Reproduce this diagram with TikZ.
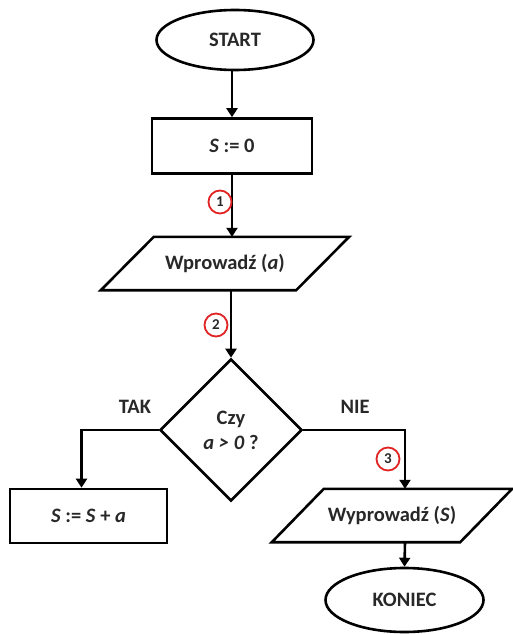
\documentclass[tikz,border=0pt]{standalone}
\usepackage{fontspec}
\setmainfont{Carlito}
\usetikzlibrary{shapes.geometric,arrows.meta}
\definecolor{markred}{RGB}{225,35,35}
\definecolor{txt}{RGB}{40,40,40}
\begin{document}
\begin{tikzpicture}[x=1pt,y=-1pt,
  every node/.style={font=\fontsize{20.5}{25}\selectfont\bfseries, text=txt},
  line/.style={line width=2.6pt},
  arr/.style={line width=2.6pt, -{Triangle[width=11pt,length=9pt]}},
  term/.style={ellipse, draw, line width=2.6pt, minimum width=157pt, minimum height=60pt, inner sep=0pt},
  proc/.style={rectangle, draw, line width=2.6pt, minimum height=55pt, inner sep=0pt},
  io/.style={rectangle, minimum height=53pt, inner sep=0pt},
  dec/.style={diamond, draw, line width=2.6pt, minimum width=142pt, minimum height=142pt, inner sep=0pt, align=center},
  numcirc/.style={circle, draw=markred, line width=1.8pt, minimum size=23pt, inner sep=0pt, font=\fontsize{15}{15}\selectfont\bfseries},
  lbl/.style={font=\fontsize{20.5}{25}\selectfont\bfseries}
]
\useasboundingbox (0,0) rectangle (512,634);

\node[term] (start) at (235,40) {START};
\node[proc, minimum width=160pt] (box1) at (232,146) {\textit{S} := 0};
\node[io, minimum width=195pt] (par1) at (225,263.5) {Wprowadź (\textit{a})};
\draw[line, line join=miter] ([xshift=26.5pt]par1.north west) -- ([xshift=26.5pt]par1.north east) -- ([xshift=-26.5pt]par1.south east) -- ([xshift=-26.5pt]par1.south west) -- cycle;
\node[dec] (dec) at (231,430) {Czy\\\textit{a > 0} ?};
\node[proc, minimum width=157pt, minimum height=54pt] (box2) at (88.5,516) {\textit{S} := \textit{S} + \textit{a}};
\node[io, minimum width=188pt] (par2) at (392,515.5) {Wyprowadź (\textit{S})};
\draw[line, line join=miter] ([xshift=26pt]par2.north west) -- ([xshift=26pt]par2.north east) -- ([xshift=-26pt]par2.south east) -- ([xshift=-26pt]par2.south west) -- cycle;
\node[term, minimum width=158pt, minimum height=64pt] (koniec) at (404.5,600) {KONIEC};

\draw[arr] (start.south -| box1.north) -- (box1.north);
\draw[arr] (box1.south) -- (box1.south |- par1.north);
\draw[arr] (dec.north |- par1.south) -- (dec.north);
\draw[arr] (dec.west) -| ([xshift=-7pt]box2.north);
\draw[arr] (dec.east) -| ([xshift=13pt]par2.north);
\draw[arr] ([xshift=13pt]par2.south) -- (koniec.north);

\node[lbl] (tak) at (135,407) {TAK};
\node[lbl] (nie) at (355,407) {NIE};

\node[numcirc] (n1) at (220,202) {1};
\node[numcirc] (n2) at (216,325) {2};
\node[numcirc] (n3) at (388,459) {3};
\end{tikzpicture}
\end{document}
